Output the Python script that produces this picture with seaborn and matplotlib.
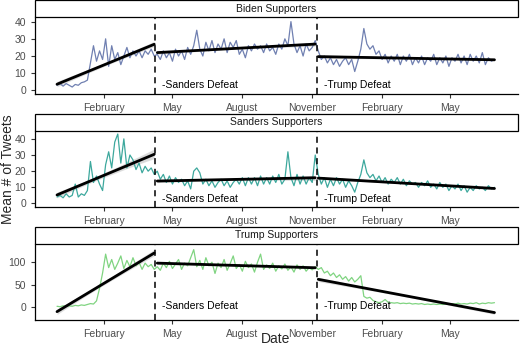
import numpy as np
import pandas as pd
import matplotlib
matplotlib.use('Agg')
import matplotlib.pyplot as plt
import matplotlib.dates as mdates
from matplotlib.patches import Rectangle
import seaborn as sns

# daily means sampled every 4 days, starting 2019-12-01
start_date = '2019-12-01'
step = '4D'
groups = ['Biden Supporters', 'Sanders Supporters', 'Trump Supporters']
colors = ['#7080B1', '#3DA89D', '#80D481']
events = ['2020-04-08', '2020-11-07']
event_labels = ['-Sanders Defeat', '-Trump Defeat']
yticks = [[0, 10, 20, 30, 40], [0, 10, 20, 30, 40], [0, 50, 100]]
ylims = [(-1.9, 42.4), (-2.1, 45.1), (-28.5, 141)]

biden = [3, 4, 2.5, 4, 3, 2, 3.5, 3, 4.5, 5, 6, 16, 26, 17, 23, 18, 30, 14, 26, 18,
         22, 15, 20, 25, 19, 23, 20, 23, 19, 23, 21, 24, 20,
         21, 18, 23, 19, 22, 17, 24, 20, 23, 18, 25, 21, 26, 35, 24, 20, 28, 23, 29, 22,
         27, 24, 30, 22, 28, 25, 29, 21, 24, 19, 26, 23, 27, 24, 26, 22, 27, 23, 25, 21,
         27, 24, 30, 26, 40, 27, 22, 26, 20, 27, 23, 25, 29,
         23, 18, 20, 16, 19, 15, 18, 14, 17, 19, 15, 18, 11, 17, 24, 36, 27, 24, 26, 21,
         23, 18, 21, 16, 20, 17, 21, 15, 20, 17, 21, 15, 19, 16, 20, 15, 19, 17, 21, 15,
         19, 16, 20, 14, 19, 17, 21, 16, 20, 15, 21, 17, 20, 16, 22, 15, 19, 17, 18]

sanders = [4, 5, 3.5, 6, 4, 5, 12, 4, 6, 5, 8, 26, 13, 17, 12, 8, 24, 32, 22, 38,
           43, 25, 40, 22, 30, 27, 21, 25, 19, 23, 20, 22, 18,
           20, 15, 18, 13, 17, 12, 16, 13, 15, 11, 14, 9, 20, 22, 19, 12, 15, 11, 14, 10,
           13, 15, 11, 14, 10, 13, 15, 12, 16, 11, 16, 12, 16, 11, 17, 12, 16, 12, 17, 13,
           18, 12, 15, 32, 16, 11, 18, 12, 17, 12, 16, 13, 30,
           18, 12, 16, 10, 15, 11, 16, 12, 15, 10, 14, 11, 7, 13, 18, 27, 19, 16, 18, 14,
           17, 13, 16, 12, 15, 13, 16, 12, 15, 11, 14, 12, 13, 10, 13, 11, 14, 10, 12, 9,
           13, 10, 12, 8, 11, 9, 12, 8, 11, 7, 10, 8, 11, 9, 10, 8, 11, 9, 10]

trump = [2, 1, 3, 2, 3, 2, 4, 3, 5, 4, 6, 8, 7, 14, 42, 76, 118, 88, 106, 84,
         98, 114, 86, 104, 90, 110, 92, 100, 84, 98, 90, 95, 84,
         90, 82, 98, 88, 102, 86, 96, 106, 84, 98, 92, 110, 128, 90, 104, 84, 110, 92,
         100, 75, 98, 88, 106, 82, 97, 114, 86, 95, 80, 102, 88, 96, 78, 100, 118, 84,
         94, 86, 98, 80, 92, 85, 96, 82, 90, 78, 94, 84, 92, 80, 88, 83, 90,
         84, 88, 76, 80, 70, 76, 66, 72, 62, 68, 58, 66, 56, 62, 70, 24, 20, 22, 15, 12,
         10, 12, 17, 11, 10, 9, 10, 8, 9, 8, 9, 7, 8, 7, 8, 6, 7, 6, 7, 6,
         7, 6, 7, 6, 8, 7, 9, 7, 8, 7, 9, 8, 10, 7, 9, 8, 10, 9, 10]

frames = []
for name, vals in zip(groups, [biden, sanders, trump]):
    dates = pd.date_range(start_date, periods=len(vals), freq=step)
    frames.append(pd.DataFrame({'group': name, 'date': dates, 'value': vals}))
df = pd.concat(frames, ignore_index=True)
df['num'] = mdates.date2num(df['date'])
event_nums = mdates.date2num(pd.to_datetime(events))
df['period'] = np.searchsorted(event_nums, df['num'], side='right')

sns.set_style('ticks')
plt.rcParams['font.family'] = ['Liberation Sans', 'DejaVu Sans']

g = sns.FacetGrid(df, row='group', row_order=groups, sharex=True, sharey=False,
                  height=1.2, aspect=4)
g.figure.set_size_inches(5.2, 3.47)
g.figure.subplots_adjust(left=0.0673, right=0.9962, top=0.9496, bottom=0.0778, hspace=0.484)
g.set_titles('')

for i, (ax, name) in enumerate(zip(g.axes.flat, groups)):
    sub = df[df['group'] == name]
    sns.lineplot(data=sub, x='num', y='value', color=colors[i], lw=0.9, ax=ax)
    for p in sorted(sub['period'].unique()):
        seg = sub[sub['period'] == p]
        sns.regplot(data=seg, x='num', y='value', scatter=False, color='black',
                    ci=68, line_kws={'lw': 2}, seed=1, ax=ax)
    for en, lab in zip(event_nums, event_labels):
        ax.axvline(en, color='black', ls=(0, (4, 3)), lw=1.1)
        ax.annotate(lab, xy=(en, 3), xytext=(5, 0), textcoords='offset points',
                    ha='left', va='center', fontsize=7.5, color='black')
    ax.set_ylim(*ylims[i])
    ax.set_yticks(yticks[i])
    ax.set_xlim(mdates.date2num(pd.Timestamp('2019-11-02')),
                mdates.date2num(pd.Timestamp('2021-07-30')))
    ax.xaxis.set_major_locator(mdates.MonthLocator(bymonth=[2, 5, 8, 11]))
    ax.xaxis.set_major_formatter(mdates.DateFormatter('%B'))
    ax.tick_params(labelbottom=True, labelsize=7.5, labelcolor='#4D4D4D',
                   color='#333333', length=3, width=0.8)
    for s in ['left', 'bottom']:
        ax.spines[s].set_linewidth(0.9)
        ax.spines[s].set_color('black')
    ax.set_xlabel('')
    ax.set_ylabel('')
    # facet strip
    h = 17 / 76.2
    ax.add_patch(Rectangle((0, 1), 1, h, transform=ax.transAxes, clip_on=False,
                           facecolor='white', edgecolor='black', lw=0.9))
    ax.text(0.5, 1 + h / 2, name, transform=ax.transAxes, ha='center', va='center',
            fontsize=7.5, color='#1A1A1A')

g.figure.text(0.529, 0.022, 'Date', ha='center', va='center', fontsize=10)
g.figure.text(0.016, 0.513, 'Mean # of Tweets', ha='center', va='center',
              rotation=90, fontsize=10)

g.figure.savefig('out.png', dpi=100)
